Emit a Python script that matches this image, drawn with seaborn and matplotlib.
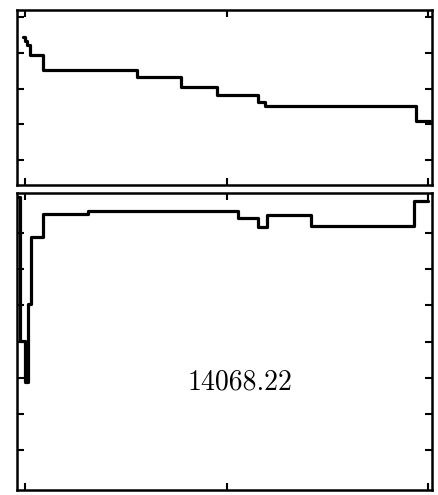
import numpy as np
import pandas as pd
import matplotlib
matplotlib.use("Agg")
import matplotlib.pyplot as plt
import seaborn as sns

# ---- data ----
top_x = [-0.010, 0.000, 0.010, 0.025, 0.089, 0.556, 0.774, 0.953, 1.156, 1.191, 1.940, 2.010]
top_y = [3.44, 3.32, 3.21, 2.93, 2.53, 2.33, 2.05, 1.83, 1.63, 1.52, 1.08, 1.08]

bot_x = [-0.040, -0.025, 0.000, 0.015, 0.030, 0.089, 0.313, 1.057, 1.156, 1.201, 1.419, 1.931, 2.000]
bot_y = [7.00, 3.01, 1.89, 4.04, 5.88, 6.53, 6.60, 6.42, 6.16, 6.48, 6.18, 6.88, 6.88]

x_ticks = [0, 1, 2]
top_yticks = [0, 1, 2, 3, 4]
bot_yticks = [0, 1, 2, 3, 4, 5, 6]
label = "14068.22"

sns.set_style("ticks")
plt.rcParams["font.family"] = ["DejaVu Serif"]

fig = plt.figure(figsize=(4.38, 4.95), dpi=100)
W, H = 438.0, 495.0
ax_top = fig.add_axes([17 / W, 1 - 185 / H, 415 / W, 175 / H])
ax_bot = fig.add_axes([17 / W, 1 - 490 / H, 415 / W, 297 / H])

df_top = pd.DataFrame({"x": top_x, "y": top_y})
df_bot = pd.DataFrame({"x": bot_x, "y": bot_y})

sns.lineplot(data=df_top, x="x", y="y", ax=ax_top, color="black",
             linewidth=2.3, drawstyle="steps-post", estimator=None)
sns.lineplot(data=df_bot, x="x", y="y", ax=ax_bot, color="black",
             linewidth=2.3, drawstyle="steps-post", estimator=None)

ax_top.set_xlim(-0.04, 2.02)
ax_top.set_ylim(-0.7, 4.2)
ax_bot.set_xlim(-0.04, 2.02)
ax_bot.set_ylim(-1.09, 7.1)

for ax, yt in ((ax_top, top_yticks), (ax_bot, bot_yticks)):
    ax.set_xticks(x_ticks)
    ax.set_yticks(yt)
    ax.set_xticklabels([])
    ax.set_yticklabels([])
    ax.set_xlabel("")
    ax.set_ylabel("")
    ax.tick_params(direction="in", length=5, width=1.5, top=True, right=True,
                   bottom=True, left=True, color="black")
    for s in ax.spines.values():
        s.set_visible(True)
        s.set_linewidth(1.8)
        s.set_color("black")
    ax.set_facecolor("white")

ax_bot.text(0.537, 0.364, label, transform=ax_bot.transAxes, ha="center",
            va="center", fontsize=20, family=["cmr10", "DejaVu Serif"], color="black")

fig.savefig("out.png", dpi=100, facecolor="white")
